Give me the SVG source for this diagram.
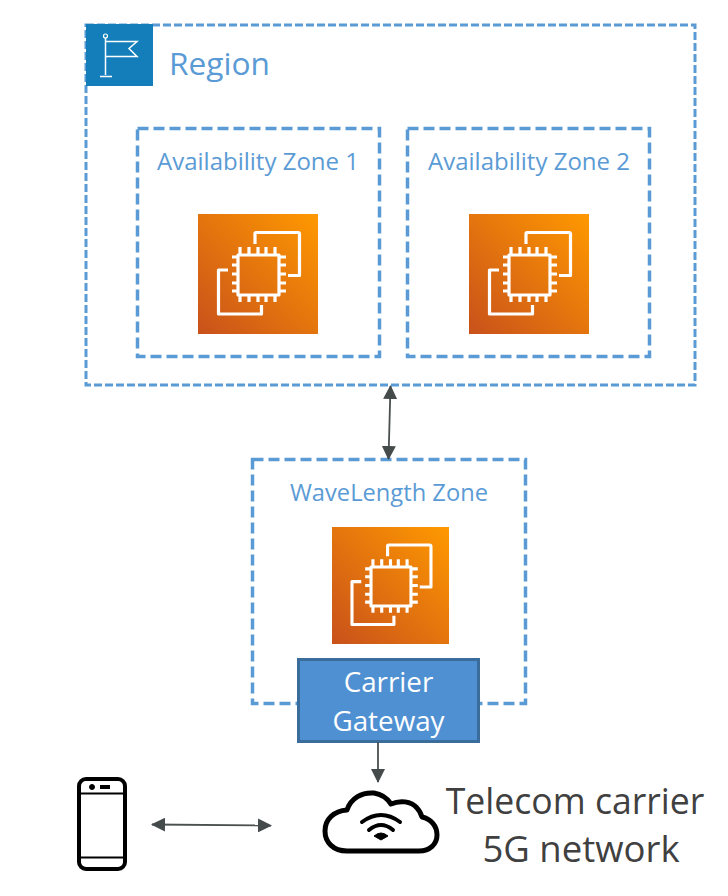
<svg xmlns="http://www.w3.org/2000/svg" width="728" height="896" viewBox="0 0 728 896">
<style>
.zone{fill:none;stroke:#5B9BD5;stroke-width:3.500;stroke-dasharray:11 5}
.region{fill:none;stroke:#5B9BD5;stroke-width:3;stroke-dasharray:8 3}
.lbl{font-family:"Open Sans","Noto Sans",sans-serif;fill:#5B9BD5;text-anchor:middle}
.big{font-family:"Open Sans","Noto Sans",sans-serif;fill:#404040;text-anchor:middle;font-size:35.600px}
.gw{font-family:"Open Sans","Noto Sans",sans-serif;fill:#fff;text-anchor:middle;font-size:27.800px}
.conn{fill:none;stroke:#4a5050;stroke-width:1.800}
.ic{fill:none;stroke:#fff;stroke-width:3.200;stroke-linejoin:round}
.blk{fill:none;stroke:#000;stroke-linecap:round;stroke-linejoin:round}
</style>
<defs>
<linearGradient id="g" x1="0" y1="1" x2="1" y2="0"><stop offset="0" stop-color="#C8511B"/><stop offset="1" stop-color="#FF9900"/></linearGradient>
<marker id="a" viewBox="0 0 14 14" refX="13" refY="7" markerWidth="14" markerHeight="14" markerUnits="userSpaceOnUse" orient="auto-start-reverse"><path d="M0 0L14 7L0 14Z" fill="#454a4a"/></marker>
<symbol id="ec2" viewBox="0 0 120 120" overflow="visible">
<rect width="120" height="120" fill="url(#g)"/>
<rect x="40" y="41" width="41" height="40" class="ic"/>
<path class="ic" d="M57 30V19.500Q57 18.500 58 18.500H100Q101.500 18.500 101.500 20V61.500H90M30 56H20.500V100H63.500V91"/>
<path class="ic" d="M42 33V41M51 33V41M60 33V41M68 33V41M77 33V41M42 81V88M51 81V88M60 81V88M68 81V88M77 81V88M34 43H40M34 51H40M34 60H40M34 69H40M34 77H40M81 43H88M81 51H88M81 60H88M81 69H88M81 77H88"/>
</symbol>
</defs>
<g id="region">
<rect class="region" x="86" y="25" width="609" height="360"/>
<rect x="86" y="24" width="67" height="62" fill="#147EBA"/>
<path d="M105.500 36V75M100 76.500H112M106 41.500H137L129 48.500L137 56.500H106" fill="none" stroke="#fff" stroke-width="1.500"/>
<circle cx="105.500" cy="36" r="2" fill="#147EBA" stroke="#fff" stroke-width="1.200"/>
<text class="lbl" x="219.500" y="75" font-size="31.700">Region</text>
</g>
<g id="az1">
<rect class="zone" x="137.500" y="128.500" width="242" height="228"/>
<text class="lbl" x="258" y="170" font-size="24">Availability Zone 1</text>
<use href="#ec2" x="198" y="214" width="120" height="120"/>
</g>
<g id="az2">
<rect class="zone" x="407.500" y="128.500" width="242" height="228"/>
<text class="lbl" x="529" y="170" font-size="24">Availability Zone 2</text>
<use href="#ec2" x="469" y="214" width="120" height="120"/>
</g>
<g id="wavelength">
<rect class="zone" x="252.500" y="459.500" width="273" height="244"/>
<text class="lbl" x="389" y="501" font-size="23.700">WaveLength Zone</text>
<use href="#ec2" x="332" y="527" width="117" height="117"/>
</g>
<g id="gateway">
<rect x="298.500" y="659.500" width="180" height="82" fill="#4F90D2" stroke="#3A6C9C" stroke-width="3"/>
<text class="gw" x="388.500" y="692">Carrier</text>
<text class="gw" x="388.500" y="731">Gateway</text>
</g>
<g id="phone">
<rect class="blk" x="79" y="779" width="46" height="90" rx="7" stroke-width="4"/>
<path d="M79 793.500H125M79 857.500H125" fill="none" stroke="#000" stroke-width="2"/>
<circle cx="92" cy="787" r="2.500" fill="#000" stroke="#000" stroke-width="1"/>
<path d="M100 787H110" stroke="#000" stroke-width="4"/>
</g>
<g id="cloud">
<path class="blk" stroke-width="5" d="M347 851C333 851 325 842 325 831C325 819 334 811 347 810C351 798 362 792 374 793C381 794 387 798 391 804C400 800 411 801 417 808C420 811 421 814 422 817C431 819 437 826 437 835C437 844 430 851 419 851Z"/>
<path class="blk" stroke-width="4" d="M362 822Q381 808 400 822M369 830Q381 820 393 830"/>
<path d="M374 836Q381 830 388 836L381 840Z" fill="#000" stroke="#000"/>
<text class="big" x="575" y="814">Telecom carrier</text>
<text class="big" x="581" y="862" style="font-size:36.500px">5G network</text>
</g>
<g id="connectors">
<path class="conn" d="M390.500 386L388.500 459" marker-start="url(#a)" marker-end="url(#a)"/>
<path class="conn" d="M378 742V782" marker-end="url(#a)"/>
<path class="conn" d="M152 824.500L271 825.500" marker-start="url(#a)" marker-end="url(#a)"/>
</g>
</svg>
